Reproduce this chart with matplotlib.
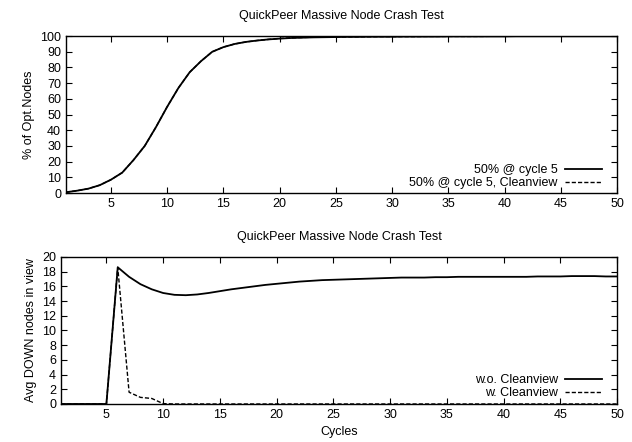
import matplotlib
matplotlib.use("Agg")
import matplotlib.pyplot as plt
import numpy as np

plt.rcParams["font.family"] = ["Liberation Sans", "DejaVu Sans"]
plt.rcParams["font.size"] = 9

cycles = np.arange(1, 51)

# top panel: % of optimal nodes
opt_crash = [0.5, 1.5, 2.8, 5.0, 8.5, 13.0, 21.0, 30.0, 42.0, 55.0,
             67.0, 77.0, 84.0, 90.0, 93.0, 95.0, 96.3, 97.2, 97.9, 98.4,
             98.8, 99.0, 99.2, 99.3, 99.4, 99.5, 99.5, 99.6, 99.6, 99.6,
             99.7, 99.7, 99.7, 99.7, 99.8, 99.8, 99.8, 99.8, 99.8, 99.8,
             99.9, 99.9, 99.9, 99.9, 99.9, 99.9, 99.9, 99.9, 99.9, 99.9]
opt_clean = [0.5, 1.5, 2.8, 5.0, 8.5, 13.0, 21.0, 30.0, 42.0, 55.0,
             67.0, 77.0, 84.0, 90.0, 93.0, 95.0, 96.3, 97.2, 97.9, 98.5,
             98.9, 99.1, 99.3, 99.4, 99.5, 99.5, 99.6, 99.6, 99.7, 99.7,
             99.7, 99.7, 99.8, 99.8, 99.8, 99.8, 99.8, 99.8, 99.9, 99.9,
             99.9, 99.9, 99.9, 99.9, 99.9, 99.9, 99.9, 99.9, 99.9, 99.9]

# bottom panel: avg DOWN nodes in view
down_wo = [0, 0, 0, 0, 0, 18.6, 17.3, 16.3, 15.6, 15.1,
           14.85, 14.8, 14.9, 15.1, 15.35, 15.6, 15.8, 16.0, 16.2, 16.35,
           16.5, 16.65, 16.75, 16.85, 16.9, 16.95, 17.0, 17.05, 17.1, 17.15,
           17.2, 17.2, 17.2, 17.25, 17.25, 17.3, 17.3, 17.3, 17.3, 17.3,
           17.3, 17.3, 17.35, 17.35, 17.35, 17.4, 17.4, 17.4, 17.35, 17.35]
down_w = [0, 0, 0, 0, 0, 18.6, 1.6, 0.9, 0.75, 0.05] + [0] * 40

fig = plt.figure(figsize=(6.32, 4.42), dpi=100)
ax1 = fig.add_axes([0.1044, 0.5633, 0.872, 0.355])
ax2 = fig.add_axes([0.0965, 0.086, 0.880, 0.3326])


def style(ax):
    ax.set_xlim(1, 50)
    ax.set_xticks(range(5, 51, 5))
    ax.tick_params(direction="in", top=True, right=True, length=4, width=0.8)
    for s in ax.spines.values():
        s.set_linewidth(1.0)


def legend(ax, dx, dy):
    ax.legend(loc="lower right", frameon=False, markerfirst=False,
              handlelength=3, handletextpad=0.55, borderpad=0,
              borderaxespad=0, labelspacing=0.05,
              bbox_to_anchor=(dx, dy), bbox_transform=ax.transAxes)


ax1.plot(cycles, opt_crash, color="black", lw=1.3, label="50% @ cycle 5")
ax1.plot(cycles, opt_clean, color="black", lw=1.0, ls=(0, (3, 1.5)),
         label="50% @ cycle 5, Cleanview")
style(ax1)
ax1.set_ylim(0, 100)
ax1.set_yticks(range(0, 101, 10))
ax1.set_title("QuickPeer Massive Node Crash Test", fontsize=9, pad=12)
ax1.set_ylabel("% of Opt.Nodes")
legend(ax1, 1 - 15 / 551, 4 / 157)

ax2.plot(cycles, down_wo, color="black", lw=1.3, label="w.o. Cleanview")
ax2.plot(cycles, down_w, color="black", lw=1.0, ls=(0, (3, 1.5)),
         label="w. Cleanview")
style(ax2)
ax2.set_ylim(0, 20)
ax2.set_yticks(range(0, 21, 2))
ax2.set_title("QuickPeer Massive Node Crash Test", fontsize=9, pad=12)
ax2.set_ylabel("Avg DOWN nodes in view")
ax2.set_xlabel("Cycles")
legend(ax2, 1 - 15 / 556, 5 / 147)

fig.savefig("out.png", dpi=100)
